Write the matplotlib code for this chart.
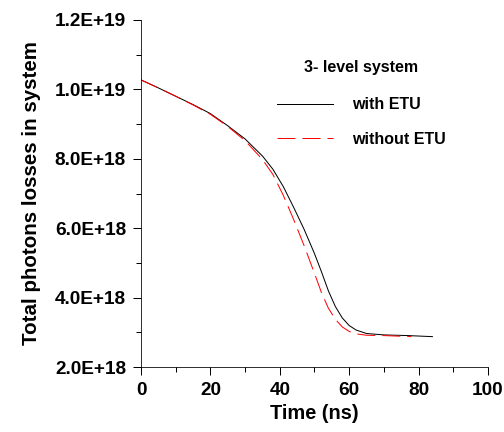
import matplotlib
matplotlib.use("Agg")
import matplotlib.pyplot as plt
from matplotlib.ticker import MultipleLocator, FuncFormatter

# time (ns) and photon losses (units of 1E18)
t_etu = [0, 5, 10, 15, 20, 25, 30, 35, 38, 41, 44, 47, 50, 52, 54, 56, 58, 60, 62, 65, 70, 77, 84]
y_etu = [10.27, 10.04, 9.80, 9.56, 9.30, 8.95, 8.57, 8.08, 7.70, 7.20, 6.60, 5.97, 5.27, 4.75, 4.20, 3.75, 3.42, 3.20, 3.07, 2.97, 2.93, 2.91, 2.88]

t_noetu = [0, 5, 10, 15, 20, 25, 30, 35, 38, 41, 44, 47, 50, 52, 54, 56, 58, 60, 62, 65, 70, 78]
y_noetu = [10.27, 10.04, 9.80, 9.55, 9.28, 8.93, 8.52, 7.98, 7.55, 6.95, 6.25, 5.50, 4.70, 4.15, 3.70, 3.38, 3.16, 3.03, 2.96, 2.92, 2.91, 2.88]

plt.rcParams['font.family'] = ['Liberation Sans', 'DejaVu Sans']

fig = plt.figure(figsize=(7, 6), dpi=72)
ax = fig.add_axes([0.28, 0.15, 0.688, 0.804])

ax.plot(t_etu, [v * 1e18 for v in y_etu], color='black', lw=1.0, label='with ETU')
ax.plot(t_noetu, [v * 1e18 for v in y_noetu], color='red', lw=1.0, dashes=(18, 7), label='without ETU')

ax.set_xlim(0, 100)
ax.set_ylim(2e18, 1.2e19)
ax.xaxis.set_major_locator(MultipleLocator(20))
ax.xaxis.set_minor_locator(MultipleLocator(10))
ax.yaxis.set_major_locator(MultipleLocator(2e18))
ax.yaxis.set_minor_locator(MultipleLocator(1e18))
ax.yaxis.set_major_formatter(FuncFormatter(lambda v, p: '{:.1E}'.format(v)))

for s in ['top', 'right']:
    ax.spines[s].set_visible(False)
ax.tick_params(which='major', direction='out', length=8, width=1, labelsize=19, pad=7)
ax.tick_params(which='minor', direction='out', length=5, width=1)
for lab in ax.get_xticklabels() + ax.get_yticklabels():
    lab.set_fontweight('bold')

ax.set_xlabel('Time (ns)', fontsize=20, fontweight='bold', labelpad=5)
ax.set_ylabel('Total photons losses in system', fontsize=20.5, fontweight='bold', labelpad=14)

leg = ax.legend(title='3- level system', frameon=False, loc='upper left',
                bbox_to_anchor=(0.35, 0.925), handlelength=3.5, handletextpad=1.2,
                labelspacing=1.2, prop={'size': 16, 'weight': 'bold'})
leg.get_title().set_fontsize(16)
leg.get_title().set_fontweight('bold')
leg._legend_box.sep = 22

fig.savefig('out.png', dpi=72)
